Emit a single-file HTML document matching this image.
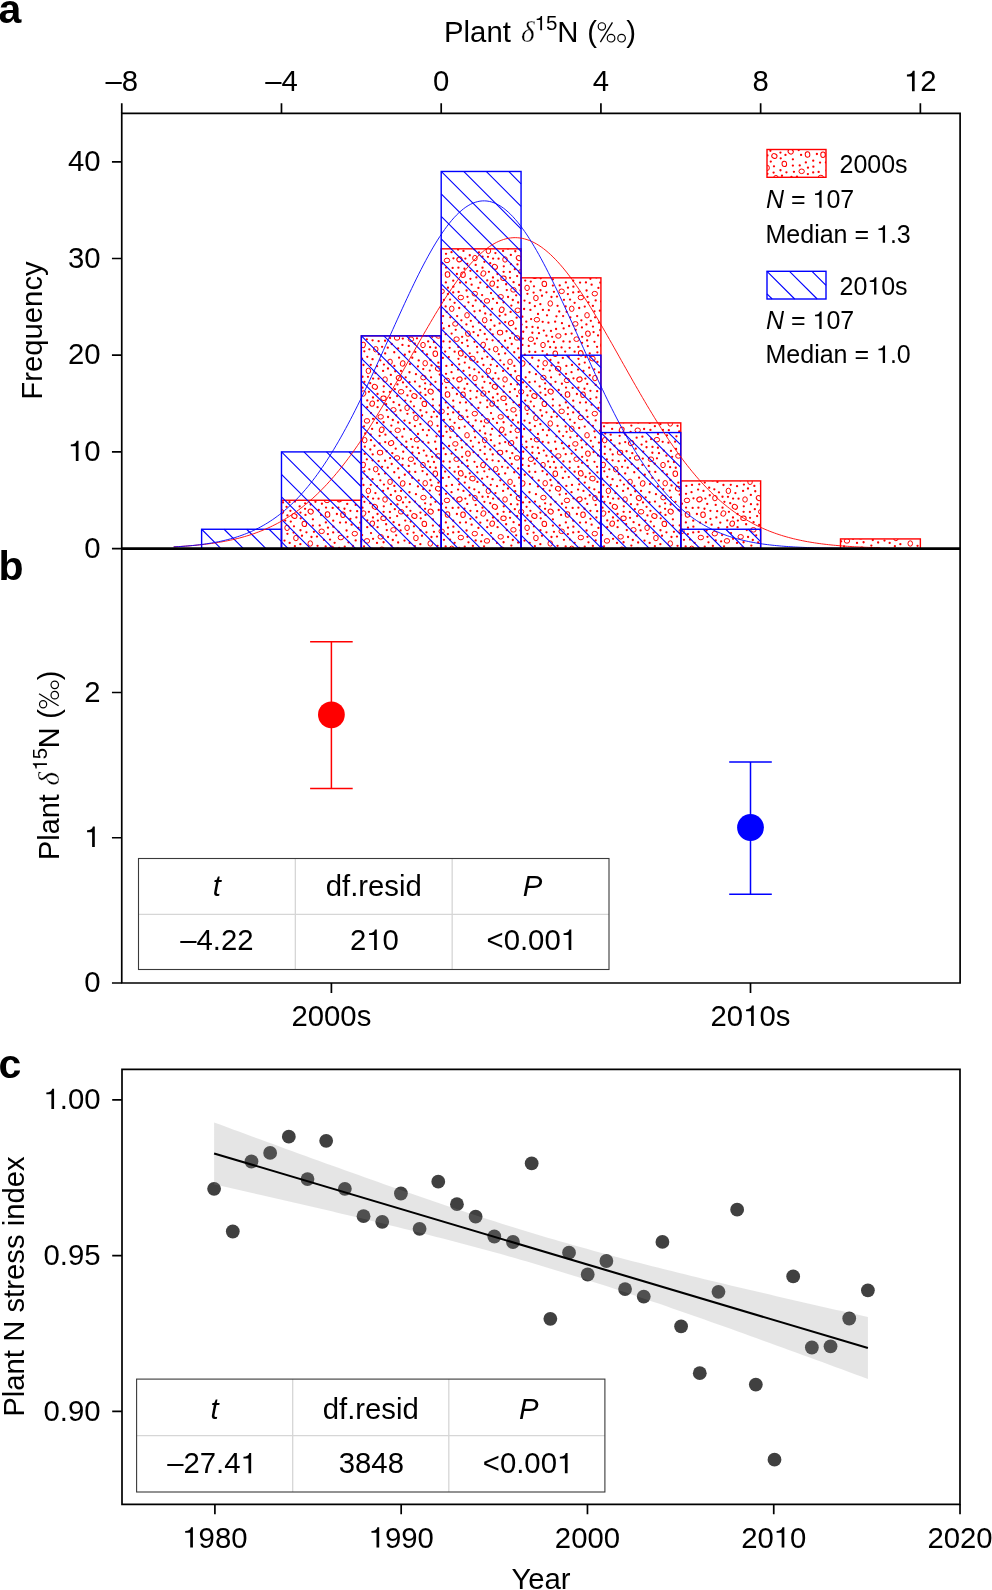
<!DOCTYPE html><html><head><meta charset="utf-8"><style>
html,body{margin:0;padding:0;background:#fff;overflow:hidden;}svg{display:block;will-change:transform;}
text{font-family:"Liberation Sans",sans-serif;fill:#000;}
.s{font-family:"Liberation Serif",serif;font-style:italic;stroke:#fff;stroke-width:0.3px;}
.o{fill:transparent;}</style></head><body>
<svg width="992" height="1590" viewBox="0 0 992 1590">
<defs>
<pattern id="rt" patternUnits="userSpaceOnUse" x="0" y="0" width="120" height="120">
<g fill="#ff0000"><circle cx="70.09" cy="107.14" r="1.15"/><circle cx="81.95" cy="83.20" r="1.15"/><circle cx="12.59" cy="100.30" r="1.15"/><circle cx="67.02" cy="75.33" r="1.15"/><circle cx="75.15" cy="81.68" r="1.15"/><circle cx="58.72" cy="0.40" r="1.15"/><circle cx="58.72" cy="120.40" r="1.15"/><circle cx="95.72" cy="89.79" r="1.15"/><circle cx="60.36" cy="64.22" r="1.15"/><circle cx="8.93" cy="31.87" r="1.15"/><circle cx="88.78" cy="117.09" r="1.15"/><circle cx="81.08" cy="34.90" r="1.15"/><circle cx="61.98" cy="55.76" r="1.15"/><circle cx="55.96" cy="14.22" r="1.15"/><circle cx="107.24" cy="23.91" r="1.15"/><circle cx="117.38" cy="112.35" r="1.15"/><circle cx="2.10" cy="55.08" r="1.15"/><circle cx="25.18" cy="113.47" r="1.15"/><circle cx="17.01" cy="62.89" r="1.15"/><circle cx="106.42" cy="84.40" r="1.15"/><circle cx="27.77" cy="107.72" r="1.15"/><circle cx="0.21" cy="90.09" r="1.15"/><circle cx="120.21" cy="90.09" r="1.15"/><circle cx="-0.14" cy="70.70" r="1.15"/><circle cx="119.86" cy="70.70" r="1.15"/><circle cx="34.27" cy="112.27" r="1.15"/><circle cx="29.92" cy="31.89" r="1.15"/><circle cx="44.80" cy="114.74" r="1.15"/><circle cx="112.88" cy="65.91" r="1.15"/><circle cx="86.35" cy="5.94" r="1.15"/><circle cx="87.88" cy="54.10" r="1.15"/><circle cx="90.32" cy="77.34" r="1.15"/><circle cx="34.34" cy="5.88" r="1.15"/><circle cx="35.73" cy="88.68" r="1.15"/><circle cx="117.16" cy="31.22" r="1.15"/><circle cx="59.65" cy="26.40" r="1.15"/><circle cx="23.09" cy="10.89" r="1.15"/><circle cx="41.03" cy="10.93" r="1.15"/><circle cx="49.67" cy="62.90" r="1.15"/><circle cx="45.22" cy="40.58" r="1.15"/><circle cx="114.47" cy="101.84" r="1.15"/><circle cx="104.75" cy="2.62" r="1.15"/><circle cx="107.48" cy="56.79" r="1.15"/><circle cx="70.46" cy="0.02" r="1.15"/><circle cx="70.46" cy="120.02" r="1.15"/><circle cx="13.09" cy="18.53" r="1.15"/><circle cx="62.68" cy="81.85" r="1.15"/><circle cx="112.98" cy="86.61" r="1.15"/><circle cx="54.88" cy="66.18" r="1.15"/><circle cx="4.75" cy="93.88" r="1.15"/><circle cx="62.93" cy="69.95" r="1.15"/><circle cx="46.57" cy="26.83" r="1.15"/><circle cx="36.18" cy="55.28" r="1.15"/><circle cx="115.07" cy="77.35" r="1.15"/><circle cx="50.40" cy="30.87" r="1.15"/><circle cx="40.57" cy="50.47" r="1.15"/><circle cx="81.91" cy="23.77" r="1.15"/><circle cx="116.38" cy="37.41" r="1.15"/><circle cx="98.40" cy="27.70" r="1.15"/><circle cx="26.57" cy="91.26" r="1.15"/><circle cx="26.80" cy="50.04" r="1.15"/><circle cx="17.57" cy="47.22" r="1.15"/><circle cx="17.03" cy="6.22" r="1.15"/><circle cx="7.22" cy="47.20" r="1.15"/><circle cx="107.78" cy="106.03" r="1.15"/><circle cx="79.73" cy="45.43" r="1.15"/><circle cx="20.31" cy="0.34" r="1.15"/><circle cx="20.31" cy="120.34" r="1.15"/><circle cx="33.58" cy="42.18" r="1.15"/><circle cx="115.71" cy="24.89" r="1.15"/><circle cx="42.80" cy="98.59" r="1.15"/><circle cx="98.64" cy="51.89" r="1.15"/><circle cx="92.00" cy="4.88" r="1.15"/><circle cx="110.41" cy="30.84" r="1.15"/><circle cx="89.67" cy="107.83" r="1.15"/><circle cx="28.06" cy="57.02" r="1.15"/><circle cx="72.87" cy="39.34" r="1.15"/><circle cx="4.06" cy="66.31" r="1.15"/><circle cx="39.09" cy="117.63" r="1.15"/><circle cx="89.76" cy="101.64" r="1.15"/><circle cx="79.73" cy="14.54" r="1.15"/><circle cx="-1.09" cy="12.28" r="1.15"/><circle cx="118.91" cy="12.28" r="1.15"/><circle cx="56.97" cy="98.29" r="1.15"/><circle cx="111.62" cy="44.67" r="1.15"/><circle cx="26.12" cy="44.25" r="1.15"/><circle cx="30.59" cy="71.93" r="1.15"/><circle cx="37.46" cy="24.41" r="1.15"/><circle cx="19.64" cy="83.45" r="1.15"/><circle cx="48.75" cy="105.94" r="1.15"/><circle cx="10.68" cy="74.66" r="1.15"/><circle cx="44.50" cy="60.54" r="1.15"/><circle cx="17.51" cy="34.00" r="1.15"/><circle cx="62.54" cy="111.06" r="1.15"/><circle cx="13.06" cy="58.86" r="1.15"/><circle cx="57.93" cy="6.40" r="1.15"/><circle cx="50.41" cy="69.91" r="1.15"/><circle cx="51.09" cy="79.06" r="1.15"/><circle cx="53.61" cy="52.60" r="1.15"/><circle cx="91.63" cy="93.60" r="1.15"/><circle cx="54.99" cy="21.55" r="1.15"/><circle cx="11.01" cy="53.04" r="1.15"/><circle cx="94.61" cy="111.67" r="1.15"/><circle cx="60.72" cy="38.29" r="1.15"/><circle cx="4.42" cy="21.85" r="1.15"/><circle cx="81.56" cy="107.45" r="1.15"/><circle cx="104.75" cy="66.62" r="1.15"/><circle cx="12.55" cy="-0.85" r="1.15"/><circle cx="12.55" cy="119.15" r="1.15"/><circle cx="43.23" cy="91.76" r="1.15"/><circle cx="73.93" cy="51.87" r="1.15"/><circle cx="78.37" cy="2.67" r="1.15"/><circle cx="0.31" cy="42.60" r="1.15"/><circle cx="120.31" cy="42.60" r="1.15"/><circle cx="70.69" cy="24.50" r="1.15"/><circle cx="37.13" cy="36.03" r="1.15"/><circle cx="83.41" cy="101.44" r="1.15"/><circle cx="66.45" cy="52.33" r="1.15"/><circle cx="94.61" cy="62.79" r="1.15"/><circle cx="52.47" cy="86.95" r="1.15"/><circle cx="25.44" cy="74.71" r="1.15"/><circle cx="9.34" cy="109.29" r="1.15"/><circle cx="3.45" cy="5.00" r="1.15"/><circle cx="83.12" cy="76.07" r="1.15"/><circle cx="83.64" cy="88.41" r="1.15"/><circle cx="98.35" cy="106.95" r="1.15"/><circle cx="109.73" cy="113.32" r="1.15"/><circle cx="115.68" cy="60.45" r="1.15"/><circle cx="52.37" cy="92.76" r="1.15"/><circle cx="41.61" cy="84.56" r="1.15"/><circle cx="103.47" cy="10.91" r="1.15"/><circle cx="83.94" cy="59.80" r="1.15"/><circle cx="63.79" cy="90.54" r="1.15"/><circle cx="18.64" cy="101.17" r="1.15"/><circle cx="18.55" cy="18.72" r="1.15"/><circle cx="-1.94" cy="95.39" r="1.15"/><circle cx="118.06" cy="95.39" r="1.15"/><circle cx="93.38" cy="46.65" r="1.15"/><circle cx="12.13" cy="68.95" r="1.15"/><circle cx="25.21" cy="82.12" r="1.15"/><circle cx="97.15" cy="76.12" r="1.15"/><circle cx="42.38" cy="76.66" r="1.15"/><circle cx="100.05" cy="42.57" r="1.15"/><circle cx="6.85" cy="99.35" r="1.15"/><circle cx="78.71" cy="30.00" r="1.15"/><circle cx="76.44" cy="76.34" r="1.15"/><circle cx="60.45" cy="32.60" r="1.15"/><circle cx="4.81" cy="86.72" r="1.15"/><circle cx="91.52" cy="12.16" r="1.15"/><circle cx="49.49" cy="12.25" r="1.15"/><circle cx="55.27" cy="111.88" r="1.15"/><circle cx="98.08" cy="9.56" r="1.15"/><circle cx="44.11" cy="69.00" r="1.15"/><circle cx="7.28" cy="116.87" r="1.15"/><circle cx="96.90" cy="34.00" r="1.15"/><circle cx="102.14" cy="96.84" r="1.15"/><circle cx="66.44" cy="95.69" r="1.15"/><circle cx="92.66" cy="27.94" r="1.15"/><circle cx="113.58" cy="92.07" r="1.15"/><circle cx="109.19" cy="7.70" r="1.15"/><circle cx="70.98" cy="90.95" r="1.15"/><circle cx="30.84" cy="14.90" r="1.15"/><circle cx="4.32" cy="111.32" r="1.15"/><circle cx="85.65" cy="66.40" r="1.15"/><circle cx="38.17" cy="108.38" r="1.15"/><circle cx="30.94" cy="24.19" r="1.15"/><circle cx="117.44" cy="1.92" r="1.15"/><circle cx="117.44" cy="121.92" r="1.15"/><circle cx="14.49" cy="85.75" r="1.15"/><circle cx="30.05" cy="98.06" r="1.15"/><circle cx="93.23" cy="40.63" r="1.15"/><circle cx="52.27" cy="117.75" r="1.15"/><circle cx="2.50" cy="16.73" r="1.15"/><circle cx="36.65" cy="77.70" r="1.15"/><circle cx="73.96" cy="102.00" r="1.15"/><circle cx="109.76" cy="15.27" r="1.15"/><circle cx="72.88" cy="45.55" r="1.15"/><circle cx="69.79" cy="10.55" r="1.15"/><circle cx="110.42" cy="38.86" r="1.15"/><circle cx="98.47" cy="-1.17" r="1.15"/><circle cx="98.47" cy="118.83" r="1.15"/><circle cx="106.58" cy="50.51" r="1.15"/><circle cx="85.85" cy="42.46" r="1.15"/><circle cx="53.98" cy="46.28" r="1.15"/><circle cx="43.01" cy="22.39" r="1.15"/><circle cx="75.46" cy="21.80" r="1.15"/><circle cx="31.34" cy="65.57" r="1.15"/><circle cx="10.76" cy="4.79" r="1.15"/><circle cx="45.70" cy="17.31" r="1.15"/><circle cx="32.80" cy="60.00" r="1.15"/><circle cx="7.25" cy="40.47" r="1.15"/><circle cx="82.83" cy="117.88" r="1.15"/><circle cx="77.55" cy="65.87" r="1.15"/><circle cx="90.04" cy="59.59" r="1.15"/><circle cx="68.45" cy="82.68" r="1.15"/><circle cx="23.78" cy="26.36" r="1.15"/><circle cx="99.20" cy="67.98" r="1.15"/><circle cx="25.08" cy="100.73" r="1.15"/><circle cx="23.61" cy="31.87" r="1.15"/><circle cx="19.64" cy="75.87" r="1.15"/><circle cx="15.40" cy="13.06" r="1.15"/><circle cx="76.07" cy="88.99" r="1.15"/><circle cx="12.70" cy="94.43" r="1.15"/><circle cx="65.46" cy="34.92" r="1.15"/><circle cx="2.51" cy="27.69" r="1.15"/><circle cx="76.97" cy="56.61" r="1.15"/><circle cx="86.04" cy="27.53" r="1.15"/><circle cx="85.18" cy="111.57" r="1.15"/><circle cx="10.20" cy="23.17" r="1.15"/><circle cx="71.04" cy="17.36" r="1.15"/><circle cx="101.94" cy="87.42" r="1.15"/><circle cx="-1.11" cy="82.56" r="1.15"/><circle cx="118.89" cy="82.56" r="1.15"/><circle cx="54.75" cy="103.63" r="1.15"/><circle cx="89.10" cy="86.01" r="1.15"/><circle cx="86.02" cy="13.82" r="1.15"/><circle cx="42.44" cy="104.96" r="1.15"/><circle cx="23.58" cy="62.25" r="1.15"/><circle cx="60.47" cy="50.25" r="1.15"/><circle cx="57.91" cy="87.73" r="1.15"/><circle cx="32.30" cy="93.14" r="1.15"/><circle cx="58.01" cy="73.99" r="1.15"/><circle cx="23.91" cy="4.60" r="1.15"/><circle cx="49.41" cy="111.73" r="1.15"/><circle cx="49.95" cy="4.06" r="1.15"/><circle cx="101.36" cy="80.34" r="1.15"/><circle cx="10.96" cy="80.13" r="1.15"/><circle cx="85.71" cy="94.13" r="1.15"/><circle cx="47.43" cy="53.87" r="1.15"/><circle cx="107.12" cy="100.38" r="1.15"/><circle cx="5.21" cy="73.49" r="1.15"/><circle cx="105.93" cy="42.39" r="1.15"/><circle cx="93.47" cy="18.32" r="1.15"/><circle cx="114.46" cy="71.35" r="1.15"/><circle cx="31.71" cy="104.01" r="1.15"/><circle cx="63.24" cy="9.11" r="1.15"/><circle cx="67.02" cy="114.38" r="1.15"/><circle cx="-1.58" cy="47.90" r="1.15"/><circle cx="118.42" cy="47.90" r="1.15"/><circle cx="38.14" cy="62.52" r="1.15"/><circle cx="79.23" cy="71.51" r="1.15"/><circle cx="22.09" cy="106.86" r="1.15"/><circle cx="68.81" cy="70.13" r="1.15"/><circle cx="65.15" cy="23.28" r="1.15"/><circle cx="117.07" cy="106.79" r="1.15"/><circle cx="47.44" cy="35.47" r="1.15"/><circle cx="105.61" cy="117.02" r="1.15"/><circle cx="50.77" cy="41.60" r="1.15"/><circle cx="12.98" cy="37.50" r="1.15"/><circle cx="87.97" cy="47.66" r="1.15"/><circle cx="46.28" cy="81.66" r="1.15"/><circle cx="114.33" cy="9.37" r="1.15"/><circle cx="30.03" cy="37.81" r="1.15"/><circle cx="39.20" cy="44.98" r="1.15"/><circle cx="93.20" cy="52.38" r="1.15"/><circle cx="35.27" cy="11.25" r="1.15"/><circle cx="71.48" cy="57.01" r="1.15"/><circle cx="71.52" cy="5.40" r="1.15"/><circle cx="1.14" cy="61.34" r="1.15"/><circle cx="121.14" cy="61.34" r="1.15"/><circle cx="34.81" cy="29.21" r="1.15"/><circle cx="46.55" cy="87.26" r="1.15"/><circle cx="10.29" cy="89.50" r="1.15"/><circle cx="2.10" cy="-1.42" r="1.15"/><circle cx="2.10" cy="118.58" r="1.15"/><circle cx="18.78" cy="114.22" r="1.15"/><circle cx="75.76" cy="107.77" r="1.15"/><circle cx="27.99" cy="8.49" r="1.15"/><circle cx="65.07" cy="28.81" r="1.15"/><circle cx="49.51" cy="22.13" r="1.15"/><circle cx="86.60" cy="71.86" r="1.15"/><circle cx="110.81" cy="80.80" r="1.15"/><circle cx="104.48" cy="28.74" r="1.15"/><circle cx="72.16" cy="96.78" r="1.15"/><circle cx="68.17" cy="101.39" r="1.15"/><circle cx="58.96" cy="93.19" r="1.15"/><circle cx="102.07" cy="102.87" r="1.15"/><circle cx="17.86" cy="40.53" r="1.15"/><circle cx="7.96" cy="16.80" r="1.15"/><circle cx="105.38" cy="18.53" r="1.15"/><circle cx="108.48" cy="62.30" r="1.15"/><circle cx="99.25" cy="4.28" r="1.15"/></g>
<g fill="none" stroke="#ff0000" stroke-width="1.0"><ellipse cx="38.86" cy="18.10" rx="2.7" ry="2.3" transform="rotate(43 38.86 18.10)"/><ellipse cx="78.11" cy="8.69" rx="2.7" ry="2.3" transform="rotate(23 78.11 8.69)"/><ellipse cx="64.31" cy="43.88" rx="2.7" ry="2.3" transform="rotate(85 64.31 43.88)"/><ellipse cx="6.96" cy="60.89" rx="2.7" ry="2.3" transform="rotate(0 6.96 60.89)"/><ellipse cx="8.38" cy="10.89" rx="2.7" ry="2.3" transform="rotate(90 8.38 10.89)"/><ellipse cx="50.94" cy="99.22" rx="2.7" ry="2.3" transform="rotate(0 50.94 99.22)"/><ellipse cx="14.86" cy="26.79" rx="2.7" ry="2.3" transform="rotate(35 14.86 26.79)"/><ellipse cx="75.29" cy="113.73" rx="2.7" ry="2.3" transform="rotate(85 75.29 113.73)"/><ellipse cx="103.02" cy="34.75" rx="2.7" ry="2.3" transform="rotate(86 103.02 34.75)"/><ellipse cx="37.02" cy="97.94" rx="2.7" ry="2.3" transform="rotate(0 37.02 97.94)"/><ellipse cx="21.69" cy="69.79" rx="2.7" ry="2.3" transform="rotate(114 21.69 69.79)"/><ellipse cx="81.65" cy="51.31" rx="2.7" ry="2.3" transform="rotate(0 81.65 51.31)"/><ellipse cx="37.70" cy="70.27" rx="2.7" ry="2.3" transform="rotate(0 37.70 70.27)"/><ellipse cx="54.38" cy="35.97" rx="2.7" ry="2.3" transform="rotate(29 54.38 35.97)"/><ellipse cx="95.33" cy="83.88" rx="2.7" ry="2.3" transform="rotate(0 95.33 83.88)"/><ellipse cx="63.02" cy="105.02" rx="2.7" ry="2.3" transform="rotate(90 63.02 105.02)"/><ellipse cx="87.53" cy="34.55" rx="2.7" ry="2.3" transform="rotate(85 87.53 34.55)"/><ellipse cx="4.70" cy="80.19" rx="2.7" ry="2.3" transform="rotate(90 4.70 80.19)"/><ellipse cx="91.75" cy="68.76" rx="2.7" ry="2.3" transform="rotate(90 91.75 68.76)"/><ellipse cx="100.80" cy="113.36" rx="2.7" ry="2.3" transform="rotate(71 100.80 113.36)"/><ellipse cx="56.89" cy="79.70" rx="2.7" ry="2.3" transform="rotate(0 56.89 79.70)"/><ellipse cx="33.41" cy="49.84" rx="2.7" ry="2.3" transform="rotate(0 33.41 49.84)"/><ellipse cx="114.93" cy="18.11" rx="2.7" ry="2.3" transform="rotate(90 114.93 18.11)"/><ellipse cx="70.69" cy="31.53" rx="2.7" ry="2.3" transform="rotate(39 70.69 31.53)"/><ellipse cx="107.94" cy="93.60" rx="2.7" ry="2.3" transform="rotate(79 107.94 93.60)"/><ellipse cx="47.09" cy="47.88" rx="2.7" ry="2.3" transform="rotate(90 47.09 47.88)"/><ellipse cx="25.05" cy="19.48" rx="2.7" ry="2.3" transform="rotate(90 25.05 19.48)"/><ellipse cx="12.18" cy="43.63" rx="2.7" ry="2.3" transform="rotate(103 12.18 43.63)"/><ellipse cx="3.06" cy="104.92" rx="2.7" ry="2.3" transform="rotate(105 3.06 104.92)"/><ellipse cx="123.06" cy="104.92" rx="2.7" ry="2.3" transform="rotate(105 123.06 104.92)"/><ellipse cx="55.92" cy="58.06" rx="2.7" ry="2.3" transform="rotate(90 55.92 58.06)"/><ellipse cx="41.12" cy="31.77" rx="2.7" ry="2.3" transform="rotate(0 41.12 31.77)"/><ellipse cx="99.46" cy="19.37" rx="2.7" ry="2.3" transform="rotate(154 99.46 19.37)"/><ellipse cx="63.39" cy="17.59" rx="2.7" ry="2.3" transform="rotate(0 63.39 17.59)"/><ellipse cx="65.18" cy="3.25" rx="2.7" ry="2.3" transform="rotate(90 65.18 3.25)"/><ellipse cx="65.18" cy="123.25" rx="2.7" ry="2.3" transform="rotate(90 65.18 123.25)"/><ellipse cx="20.05" cy="92.63" rx="2.7" ry="2.3" transform="rotate(174 20.05 92.63)"/><ellipse cx="42.67" cy="3.48" rx="2.7" ry="2.3" transform="rotate(102 42.67 3.48)"/><ellipse cx="42.67" cy="123.48" rx="2.7" ry="2.3" transform="rotate(102 42.67 123.48)"/><ellipse cx="3.35" cy="33.53" rx="2.7" ry="2.3" transform="rotate(118 3.35 33.53)"/><ellipse cx="123.35" cy="33.53" rx="2.7" ry="2.3" transform="rotate(118 123.35 33.53)"/><ellipse cx="31.10" cy="83.10" rx="2.7" ry="2.3" transform="rotate(150 31.10 83.10)"/><ellipse cx="114.78" cy="53.67" rx="2.7" ry="2.3" transform="rotate(0 114.78 53.67)"/><ellipse cx="112.44" cy="-1.44" rx="2.7" ry="2.3" transform="rotate(11 112.44 -1.44)"/><ellipse cx="112.44" cy="118.56" rx="2.7" ry="2.3" transform="rotate(11 112.44 118.56)"/><ellipse cx="100.85" cy="57.54" rx="2.7" ry="2.3" transform="rotate(0 100.85 57.54)"/><ellipse cx="78.36" cy="95.96" rx="2.7" ry="2.3" transform="rotate(0 78.36 95.96)"/><ellipse cx="86.98" cy="20.40" rx="2.7" ry="2.3" transform="rotate(0 86.98 20.40)"/><ellipse cx="15.73" cy="109.20" rx="2.7" ry="2.3" transform="rotate(90 15.73 109.20)"/><ellipse cx="20.68" cy="56.82" rx="2.7" ry="2.3" transform="rotate(0 20.68 56.82)"/><ellipse cx="23.49" cy="38.22" rx="2.7" ry="2.3" transform="rotate(8 23.49 38.22)"/><ellipse cx="30.05" cy="1.84" rx="2.7" ry="2.3" transform="rotate(90 30.05 1.84)"/><ellipse cx="30.05" cy="121.84" rx="2.7" ry="2.3" transform="rotate(90 30.05 121.84)"/><ellipse cx="70.27" cy="63.50" rx="2.7" ry="2.3" transform="rotate(90 70.27 63.50)"/><ellipse cx="107.03" cy="75.28" rx="2.7" ry="2.3" transform="rotate(90 107.03 75.28)"/><ellipse cx="96.56" cy="99.17" rx="2.7" ry="2.3" transform="rotate(0 96.56 99.17)"/></g>
</pattern>
</defs>
<rect width="992" height="1590" fill="#fff"/>
<rect x="281.48" y="500.25" width="79.86" height="48.35" fill="url(#rt)" stroke="#ff0000" stroke-width="1.4"/>
<rect x="361.34" y="335.86" width="79.86" height="212.74" fill="url(#rt)" stroke="#ff0000" stroke-width="1.4"/>
<rect x="441.20" y="248.83" width="79.86" height="299.77" fill="url(#rt)" stroke="#ff0000" stroke-width="1.4"/>
<rect x="521.06" y="277.84" width="79.86" height="270.76" fill="url(#rt)" stroke="#ff0000" stroke-width="1.4"/>
<rect x="600.92" y="422.89" width="79.86" height="125.71" fill="url(#rt)" stroke="#ff0000" stroke-width="1.4"/>
<rect x="680.78" y="480.91" width="79.86" height="67.69" fill="url(#rt)" stroke="#ff0000" stroke-width="1.4"/>
<rect x="840.50" y="538.93" width="79.86" height="9.67" fill="url(#rt)" stroke="#ff0000" stroke-width="1.4"/>
<path d="M201.62 529.26L220.96 548.60M224.12 529.26L243.46 548.60M246.62 529.26L265.96 548.60M269.12 529.26L281.48 541.62M281.48 541.90L288.18 548.60M281.48 519.40L310.68 548.60M281.48 496.90L333.18 548.60M281.48 474.40L355.68 548.60M281.48 451.90L361.34 531.76M303.98 451.90L361.34 509.26M326.48 451.90L361.34 486.76M348.98 451.90L361.34 464.26M361.34 538.36L371.58 548.60M361.34 515.86L394.08 548.60M361.34 493.36L416.58 548.60M361.34 470.86L439.08 548.60M361.34 448.36L441.20 528.22M361.34 425.86L441.20 505.72M361.34 403.36L441.20 483.22M361.34 380.86L441.20 460.72M361.34 358.36L441.20 438.22M361.34 335.86L441.20 415.72M383.84 335.86L441.20 393.22M406.34 335.86L441.20 370.72M428.84 335.86L441.20 348.22M441.20 531.47L458.33 548.60M441.20 508.97L480.83 548.60M441.20 486.47L503.33 548.60M441.20 463.97L521.06 543.83M441.20 441.47L521.06 521.33M441.20 418.97L521.06 498.83M441.20 396.47L521.06 476.33M441.20 373.97L521.06 453.83M441.20 351.47L521.06 431.33M441.20 328.97L521.06 408.83M441.20 306.47L521.06 386.33M441.20 283.97L521.06 363.83M441.20 261.47L521.06 341.33M441.20 238.97L521.06 318.83M441.20 216.47L521.06 296.33M441.20 193.97L521.06 273.83M441.20 171.47L521.06 251.33M463.70 171.47L521.06 228.83M486.20 171.47L521.06 206.33M508.70 171.47L521.06 183.83M521.06 535.20L534.46 548.60M521.06 512.70L556.96 548.60M521.06 490.20L579.46 548.60M521.06 467.70L600.92 547.56M521.06 445.20L600.92 525.06M521.06 422.70L600.92 502.56M521.06 400.20L600.92 480.06M521.06 377.70L600.92 457.56M521.06 355.20L600.92 435.06M543.56 355.20L600.92 412.56M566.06 355.20L600.92 390.06M588.56 355.20L600.92 367.56M600.92 545.06L604.46 548.60M600.92 522.56L626.96 548.60M600.92 500.06L649.46 548.60M600.92 477.56L671.96 548.60M600.92 455.06L680.78 534.92M600.92 432.56L680.78 512.42M623.42 432.56L680.78 489.92M645.92 432.56L680.78 467.42M668.42 432.56L680.78 444.92M680.78 529.26L700.12 548.60M703.28 529.26L722.62 548.60M725.78 529.26L745.12 548.60M748.28 529.26L760.64 541.62" stroke="#0000ff" stroke-width="1.1" fill="none"/>
<rect x="201.62" y="529.26" width="79.86" height="19.34" fill="none" stroke="#0000ff" stroke-width="1.4"/>
<rect x="281.48" y="451.90" width="79.86" height="96.70" fill="none" stroke="#0000ff" stroke-width="1.4"/>
<rect x="361.34" y="335.86" width="79.86" height="212.74" fill="none" stroke="#0000ff" stroke-width="1.4"/>
<rect x="441.20" y="171.47" width="79.86" height="377.13" fill="none" stroke="#0000ff" stroke-width="1.4"/>
<rect x="521.06" y="355.20" width="79.86" height="193.40" fill="none" stroke="#0000ff" stroke-width="1.4"/>
<rect x="600.92" y="432.56" width="79.86" height="116.04" fill="none" stroke="#0000ff" stroke-width="1.4"/>
<rect x="680.78" y="529.26" width="79.86" height="19.34" fill="none" stroke="#0000ff" stroke-width="1.4"/>
<polyline points="173.67,546.86 176.02,546.73 178.38,546.59 180.74,546.45 183.09,546.29 185.45,546.13 187.80,545.95 190.16,545.76 192.52,545.56 194.87,545.35 197.23,545.13 199.58,544.89 201.94,544.63 204.30,544.37 206.65,544.08 209.01,543.78 211.36,543.46 213.72,543.13 216.07,542.77 218.43,542.40 220.79,542.00 223.14,541.58 225.50,541.14 227.85,540.68 230.21,540.19 232.57,539.67 234.92,539.13 237.28,538.56 239.63,537.96 241.99,537.33 244.35,536.67 246.70,535.98 249.06,535.25 251.41,534.49 253.77,533.69 256.12,532.85 258.48,531.98 260.84,531.07 263.19,530.11 265.55,529.11 267.90,528.07 270.26,526.99 272.62,525.85 274.97,524.67 277.33,523.44 279.68,522.17 282.04,520.84 284.39,519.45 286.75,518.02 289.11,516.52 291.46,514.98 293.82,513.37 296.17,511.71 298.53,509.99 300.89,508.20 303.24,506.36 305.60,504.45 307.95,502.48 310.31,500.45 312.67,498.35 315.02,496.18 317.38,493.95 319.73,491.65 322.09,489.29 324.44,486.86 326.80,484.35 329.16,481.78 331.51,479.15 333.87,476.44 336.22,473.66 338.58,470.82 340.94,467.91 343.29,464.93 345.65,461.88 348.00,458.77 350.36,455.59 352.72,452.35 355.07,449.04 357.43,445.67 359.78,442.24 362.14,438.75 364.49,435.20 366.85,431.59 369.21,427.93 371.56,424.21 373.92,420.44 376.27,416.63 378.63,412.77 380.99,408.86 383.34,404.91 385.70,400.93 388.05,396.90 390.41,392.85 392.76,388.77 395.12,384.65 397.48,380.52 399.83,376.37 402.19,372.20 404.54,368.02 406.90,363.84 409.26,359.65 411.61,355.46 413.97,351.27 416.32,347.09 418.68,342.93 421.04,338.78 423.39,334.66 425.75,330.56 428.10,326.50 430.46,322.47 432.81,318.48 435.17,314.53 437.53,310.64 439.88,306.80 442.24,303.02 444.59,299.30 446.95,295.65 449.31,292.08 451.66,288.58 454.02,285.17 456.37,281.84 458.73,278.61 461.09,275.47 463.44,272.43 465.80,269.49 468.15,266.66 470.51,263.94 472.86,261.34 475.22,258.86 477.58,256.51 479.93,254.27 482.29,252.17 484.64,250.20 487.00,248.36 489.36,246.67 491.71,245.11 494.07,243.70 496.42,242.43 498.78,241.30 501.13,240.33 503.49,239.50 505.85,238.83 508.20,238.31 510.56,237.93 512.91,237.72 515.27,237.65 517.63,237.74 519.98,237.99 522.34,238.38 524.69,238.93 527.05,239.63 529.41,240.48 531.76,241.48 534.12,242.63 536.47,243.93 538.83,245.36 541.18,246.95 543.54,248.67 545.90,250.52 548.25,252.52 550.61,254.64 552.96,256.90 555.32,259.28 557.68,261.78 560.03,264.40 562.39,267.13 564.74,269.98 567.10,272.93 569.46,275.99 571.81,279.15 574.17,282.40 576.52,285.74 578.88,289.17 581.23,292.68 583.59,296.27 585.95,299.93 588.30,303.65 590.66,307.44 593.01,311.29 595.37,315.20 597.73,319.15 600.08,323.15 602.44,327.18 604.79,331.26 607.15,335.36 609.50,339.49 611.86,343.63 614.22,347.80 616.57,351.98 618.93,356.17 621.28,360.36 623.64,364.55 626.00,368.73 628.35,372.91 630.71,377.07 633.06,381.22 635.42,385.35 637.78,389.46 640.13,393.54 642.49,397.59 644.84,401.60 647.20,405.58 649.55,409.53 651.91,413.42 654.27,417.28 656.62,421.09 658.98,424.85 661.33,428.55 663.69,432.21 666.05,435.80 668.40,439.34 670.76,442.83 673.11,446.25 675.47,449.61 677.83,452.90 680.18,456.14 682.54,459.30 684.89,462.41 687.25,465.44 689.60,468.41 691.96,471.31 694.32,474.14 696.67,476.90 699.03,479.60 701.38,482.22 703.74,484.78 706.10,487.27 708.45,489.69 710.81,492.05 713.16,494.33 715.52,496.55 717.87,498.71 720.23,500.80 722.59,502.82 724.94,504.78 727.30,506.68 729.65,508.51 732.01,510.28 734.37,512.00 736.72,513.65 739.08,515.24 741.43,516.78 743.79,518.26 746.15,519.69 748.50,521.06 750.86,522.39 753.21,523.66 755.57,524.88 757.92,526.05 760.28,527.17 762.64,528.25 764.99,529.29 767.35,530.28 769.70,531.22 772.06,532.13 774.42,533.00 776.77,533.83 779.13,534.62 781.48,535.38 783.84,536.10 786.20,536.78 788.55,537.44 790.91,538.06 793.26,538.66 795.62,539.22 797.97,539.76 800.33,540.27 802.69,540.76 805.04,541.22 807.40,541.66 809.75,542.07 812.11,542.46 814.47,542.83 816.82,543.19 819.18,543.52 821.53,543.83 823.89,544.13 826.24,544.41 828.60,544.68 830.96,544.93 833.31,545.17 835.67,545.39 838.02,545.60 840.38,545.79 842.74,545.98 845.09,546.15 847.45,546.32 849.80,546.47 852.16,546.62 854.52,546.75 856.87,546.88 859.23,547.00 861.58,547.11 863.94,547.22 866.29,547.31 868.65,547.41 871.01,547.49 873.36,547.57 875.72,547.65 878.07,547.72 880.43,547.78" fill="none" stroke="#ff0000" stroke-width="0.9"/>
<polyline points="173.67,546.96 176.02,546.82 178.38,546.67 180.74,546.51 183.09,546.34 185.45,546.15 187.80,545.96 190.16,545.74 192.52,545.52 194.87,545.27 197.23,545.01 199.58,544.73 201.94,544.43 204.30,544.12 206.65,543.78 209.01,543.41 211.36,543.03 213.72,542.62 216.07,542.18 218.43,541.71 220.79,541.22 223.14,540.70 225.50,540.14 227.85,539.55 230.21,538.92 232.57,538.26 234.92,537.56 237.28,536.82 239.63,536.04 241.99,535.21 244.35,534.34 246.70,533.42 249.06,532.45 251.41,531.43 253.77,530.35 256.12,529.22 258.48,528.04 260.84,526.79 263.19,525.49 265.55,524.12 267.90,522.68 270.26,521.18 272.62,519.61 274.97,517.97 277.33,516.25 279.68,514.46 282.04,512.60 284.39,510.65 286.75,508.63 289.11,506.52 291.46,504.33 293.82,502.05 296.17,499.69 298.53,497.23 300.89,494.69 303.24,492.06 305.60,489.34 307.95,486.52 310.31,483.61 312.67,480.60 315.02,477.50 317.38,474.30 319.73,471.01 322.09,467.62 324.44,464.14 326.80,460.56 329.16,456.89 331.51,453.12 333.87,449.26 336.22,445.30 338.58,441.26 340.94,437.12 343.29,432.90 345.65,428.59 348.00,424.20 350.36,419.73 352.72,415.18 355.07,410.55 357.43,405.85 359.78,401.08 362.14,396.25 364.49,391.35 366.85,386.40 369.21,381.40 371.56,376.35 373.92,371.25 376.27,366.12 378.63,360.95 380.99,355.76 383.34,350.54 385.70,345.32 388.05,340.08 390.41,334.83 392.76,329.60 395.12,324.37 397.48,319.16 399.83,313.97 402.19,308.81 404.54,303.70 406.90,298.62 409.26,293.60 411.61,288.64 413.97,283.75 416.32,278.93 418.68,274.19 421.04,269.54 423.39,264.99 425.75,260.54 428.10,256.21 430.46,251.99 432.81,247.89 435.17,243.93 437.53,240.11 439.88,236.43 442.24,232.90 444.59,229.53 446.95,226.32 449.31,223.28 451.66,220.42 454.02,217.73 456.37,215.23 458.73,212.92 461.09,210.80 463.44,208.87 465.80,207.15 468.15,205.63 470.51,204.31 472.86,203.21 475.22,202.31 477.58,201.63 479.93,201.16 482.29,200.90 484.64,200.86 487.00,201.03 489.36,201.42 491.71,202.02 494.07,202.83 496.42,203.86 498.78,205.09 501.13,206.53 503.49,208.18 505.85,210.02 508.20,212.07 510.56,214.31 512.91,216.73 515.27,219.35 517.63,222.14 519.98,225.12 522.34,228.26 524.69,231.57 527.05,235.03 529.41,238.66 531.76,242.42 534.12,246.33 536.47,250.38 538.83,254.55 541.18,258.84 543.54,263.24 545.90,267.76 548.25,272.37 550.61,277.07 552.96,281.86 555.32,286.73 557.68,291.66 560.03,296.66 562.39,301.71 564.74,306.81 567.10,311.96 569.46,317.13 571.81,322.33 574.17,327.56 576.52,332.79 578.88,338.03 581.23,343.27 583.59,348.51 585.95,353.73 588.30,358.93 590.66,364.11 593.01,369.25 595.37,374.36 597.73,379.43 600.08,384.46 602.44,389.43 604.79,394.35 607.15,399.20 609.50,404.00 611.86,408.72 614.22,413.38 616.57,417.96 618.93,422.47 621.28,426.89 623.64,431.23 626.00,435.49 628.35,439.66 630.71,443.74 633.06,447.73 635.42,451.62 637.78,455.43 640.13,459.14 642.49,462.76 644.84,466.28 647.20,469.70 649.55,473.03 651.91,476.27 654.27,479.40 656.62,482.45 658.98,485.39 661.33,488.25 663.69,491.01 666.05,493.68 668.40,496.25 670.76,498.74 673.11,501.14 675.47,503.45 677.83,505.67 680.18,507.81 682.54,509.87 684.89,511.85 687.25,513.75 689.60,515.56 691.96,517.31 694.32,518.98 696.67,520.58 699.03,522.11 701.38,523.57 703.74,524.96 706.10,526.29 708.45,527.56 710.81,528.77 713.16,529.92 715.52,531.02 717.87,532.06 720.23,533.05 722.59,533.98 724.94,534.87 727.30,535.72 729.65,536.52 732.01,537.28 734.37,537.99 736.72,538.67 739.08,539.31 741.43,539.91 743.79,540.48 746.15,541.02 748.50,541.53 750.86,542.00 753.21,542.45 755.57,542.87 757.92,543.27 760.28,543.64 762.64,543.99 764.99,544.31 767.35,544.62 769.70,544.90 772.06,545.17 774.42,545.42 776.77,545.66 779.13,545.87 781.48,546.08 783.84,546.27 786.20,546.45 788.55,546.61 790.91,546.76 793.26,546.91 795.62,547.04 797.97,547.16 800.33,547.28 802.69,547.38 805.04,547.48 807.40,547.57 809.75,547.65 812.11,547.73 814.47,547.80 816.82,547.87 819.18,547.93 821.53,547.99 823.89,548.04 826.24,548.09 828.60,548.13 830.96,548.17 833.31,548.21 835.67,548.24 838.02,548.28 840.38,548.30 842.74,548.33 845.09,548.36 847.45,548.38 849.80,548.40 852.16,548.42 854.52,548.43 856.87,548.45 859.23,548.46 861.58,548.48 863.94,548.49 866.29,548.50 868.65,548.51 871.01,548.52 873.36,548.52 875.72,548.53 878.07,548.54 880.43,548.54" fill="none" stroke="#0000ff" stroke-width="0.9"/>
<rect x="767" y="149.5" width="59" height="27.8" fill="url(#rt)" stroke="#ff0000" stroke-width="1.4"/>
<path d="M767.00 293.80L772.20 299.00M767.00 271.30L794.70 299.00M789.50 271.30L817.20 299.00M812.00 271.30L826.00 285.30" stroke="#0000ff" stroke-width="1.1" fill="none"/>
<rect x="767" y="271.3" width="59" height="27.7" fill="none" stroke="#0000ff" stroke-width="1.4"/>
<g font-size="25.0">
<text x="839.5" y="173.1">2000s</text>
<text x="766" y="207.7"><tspan font-style="italic">N</tspan> = <tspan class="o">1</tspan>07</text>
<text x="765.5" y="242.7">Median = <tspan class="o">1</tspan>.3</text>
<text x="839.5" y="294.6">20<tspan class="o">1</tspan>0s</text>
<text x="766" y="328.9"><tspan font-style="italic">N</tspan> = <tspan class="o">1</tspan>07</text>
<text x="765.5" y="362.9">Median = <tspan class="o">1</tspan>.0</text>
</g>
<g stroke="#ff0000" stroke-width="1.5" fill="none">
<path d="M331.40 641.70V788.60M310.10 641.70H352.70M310.10 788.60H352.70"/>
</g>
<circle cx="331.40" cy="714.80" r="13.4" fill="#ff0000"/>
<g stroke="#0000ff" stroke-width="1.5" fill="none">
<path d="M750.50 762.10V894.20M729.20 762.10H771.80M729.20 894.20H771.80"/>
</g>
<circle cx="750.50" cy="827.50" r="13.4" fill="#0000ff"/>
<g stroke="#d6d6d6" stroke-width="1.3" fill="none">
<path d="M295.33 858.50V969.50M452.17 858.50V969.50M138.50 914.30H609.00"/>
</g>
<rect x="138.50" y="858.50" width="470.50" height="111.00" fill="none" stroke="#3a3a3a" stroke-width="1.1"/>
<g font-size="29.3" text-anchor="middle">
<text x="216.92" y="896.30" font-style="italic">t</text>
<text x="373.75" y="896.30">df.resid</text>
<text x="532.58" y="896.30" font-style="italic">P</text>
<text x="216.92" y="949.90">–4.22</text>
<text x="374.35" y="949.90">2<tspan class="o">1</tspan>0</text>
<text x="531.78" y="949.90">&lt;0.00<tspan class="o">1</tspan></text>
</g>
<g fill="#404040">
<circle cx="214.10" cy="1188.80" r="6.9"/>
<circle cx="232.78" cy="1231.50" r="6.9"/>
<circle cx="251.46" cy="1161.50" r="6.9"/>
<circle cx="270.14" cy="1152.90" r="6.9"/>
<circle cx="288.82" cy="1136.70" r="6.9"/>
<circle cx="307.50" cy="1179.10" r="6.9"/>
<circle cx="326.18" cy="1140.80" r="6.9"/>
<circle cx="344.86" cy="1188.80" r="6.9"/>
<circle cx="363.54" cy="1216.20" r="6.9"/>
<circle cx="382.22" cy="1221.80" r="6.9"/>
<circle cx="400.90" cy="1193.50" r="6.9"/>
<circle cx="419.58" cy="1228.80" r="6.9"/>
<circle cx="438.26" cy="1181.70" r="6.9"/>
<circle cx="456.94" cy="1204.20" r="6.9"/>
<circle cx="475.62" cy="1216.70" r="6.9"/>
<circle cx="494.30" cy="1236.50" r="6.9"/>
<circle cx="512.98" cy="1242.00" r="6.9"/>
<circle cx="531.66" cy="1163.40" r="6.9"/>
<circle cx="550.34" cy="1318.80" r="6.9"/>
<circle cx="569.02" cy="1252.70" r="6.9"/>
<circle cx="587.70" cy="1274.50" r="6.9"/>
<circle cx="606.38" cy="1261.00" r="6.9"/>
<circle cx="625.06" cy="1289.10" r="6.9"/>
<circle cx="643.74" cy="1296.60" r="6.9"/>
<circle cx="662.42" cy="1241.90" r="6.9"/>
<circle cx="681.10" cy="1326.30" r="6.9"/>
<circle cx="699.78" cy="1373.20" r="6.9"/>
<circle cx="718.46" cy="1291.80" r="6.9"/>
<circle cx="737.14" cy="1209.70" r="6.9"/>
<circle cx="755.82" cy="1384.60" r="6.9"/>
<circle cx="774.50" cy="1459.70" r="6.9"/>
<circle cx="793.18" cy="1276.40" r="6.9"/>
<circle cx="811.86" cy="1347.50" r="6.9"/>
<circle cx="830.54" cy="1346.30" r="6.9"/>
<circle cx="849.22" cy="1318.50" r="6.9"/>
<circle cx="867.90" cy="1290.30" r="6.9"/>
</g>
<polygon points="214.10,1122.41 220.64,1124.83 227.18,1127.25 233.71,1129.66 240.25,1132.08 246.79,1134.49 253.33,1136.89 259.87,1139.30 266.40,1141.70 272.94,1144.09 279.48,1146.49 286.02,1148.88 292.56,1151.26 299.09,1153.65 305.63,1156.02 312.17,1158.40 318.71,1160.77 325.25,1163.13 331.78,1165.49 338.32,1167.84 344.86,1170.19 351.40,1172.53 357.94,1174.87 364.47,1177.20 371.01,1179.52 377.55,1181.83 384.09,1184.14 390.63,1186.43 397.16,1188.72 403.70,1191.00 410.24,1193.27 416.78,1195.53 423.32,1197.78 429.85,1200.01 436.39,1202.24 442.93,1204.45 449.47,1206.64 456.01,1208.83 462.54,1211.00 469.08,1213.15 475.62,1215.29 482.16,1217.41 488.70,1219.52 495.23,1221.61 501.77,1223.68 508.31,1225.73 514.85,1227.76 521.39,1229.77 527.92,1231.77 534.46,1233.74 541.00,1235.70 547.54,1237.64 554.08,1239.55 560.61,1241.45 567.15,1243.33 573.69,1245.19 580.23,1247.03 586.77,1248.85 593.30,1250.65 599.84,1252.44 606.38,1254.21 612.92,1255.96 619.46,1257.70 625.99,1259.42 632.53,1261.13 639.07,1262.83 645.61,1264.51 652.15,1266.18 658.68,1267.83 665.22,1269.48 671.76,1271.11 678.30,1272.73 684.84,1274.35 691.37,1275.95 697.91,1277.54 704.45,1279.13 710.99,1280.71 717.53,1282.28 724.06,1283.84 730.60,1285.40 737.14,1286.95 743.68,1288.50 750.22,1290.03 756.75,1291.57 763.29,1293.09 769.83,1294.62 776.37,1296.14 782.91,1297.65 789.44,1299.16 795.98,1300.67 802.52,1302.17 809.06,1303.67 815.60,1305.16 822.13,1306.65 828.67,1308.14 835.21,1309.63 841.75,1311.11 848.29,1312.59 854.82,1314.07 861.36,1315.54 867.90,1317.01 867.90,1378.99 861.36,1376.57 854.82,1374.15 848.29,1371.74 841.75,1369.32 835.21,1366.91 828.67,1364.51 822.13,1362.10 815.60,1359.70 809.06,1357.31 802.52,1354.91 795.98,1352.52 789.44,1350.14 782.91,1347.75 776.37,1345.38 769.83,1343.00 763.29,1340.63 756.75,1338.27 750.22,1335.91 743.68,1333.56 737.14,1331.21 730.60,1328.87 724.06,1326.53 717.53,1324.20 710.99,1321.88 704.45,1319.57 697.91,1317.26 691.37,1314.97 684.84,1312.68 678.30,1310.40 671.76,1308.13 665.22,1305.87 658.68,1303.62 652.15,1301.39 645.61,1299.16 639.07,1296.95 632.53,1294.76 625.99,1292.57 619.46,1290.40 612.92,1288.25 606.38,1286.11 599.84,1283.99 593.30,1281.88 586.77,1279.79 580.23,1277.72 573.69,1275.67 567.15,1273.64 560.61,1271.63 554.08,1269.63 547.54,1267.66 541.00,1265.70 534.46,1263.76 527.92,1261.85 521.39,1259.95 514.85,1258.07 508.31,1256.21 501.77,1254.37 495.23,1252.55 488.70,1250.75 482.16,1248.96 475.62,1247.19 469.08,1245.44 462.54,1243.70 456.01,1241.98 449.47,1240.27 442.93,1238.57 436.39,1236.89 429.85,1235.22 423.32,1233.57 416.78,1231.92 410.24,1230.29 403.70,1228.67 397.16,1227.05 390.63,1225.45 384.09,1223.86 377.55,1222.27 371.01,1220.69 364.47,1219.12 357.94,1217.56 351.40,1216.00 344.86,1214.45 338.32,1212.90 331.78,1211.37 325.25,1209.83 318.71,1208.31 312.17,1206.78 305.63,1205.26 299.09,1203.75 292.56,1202.24 286.02,1200.73 279.48,1199.23 272.94,1197.73 266.40,1196.24 259.87,1194.75 253.33,1193.26 246.79,1191.77 240.25,1190.29 233.71,1188.81 227.18,1187.33 220.64,1185.86 214.10,1184.39" fill="#8a8a8a" fill-opacity="0.222"/>
<line x1="214.10" y1="1153.40" x2="867.90" y2="1348.00" stroke="#000" stroke-width="2.1"/>
<g stroke="#d6d6d6" stroke-width="1.3" fill="none">
<path d="M292.70 1379.10V1492.00M448.80 1379.10V1492.00M136.60 1435.60H604.90"/>
</g>
<rect x="136.60" y="1379.10" width="468.30" height="112.90" fill="none" stroke="#3a3a3a" stroke-width="1.1"/>
<g font-size="29.3" text-anchor="middle">
<text x="214.65" y="1418.70" font-style="italic">t</text>
<text x="370.75" y="1418.70">df.resid</text>
<text x="528.85" y="1418.70" font-style="italic">P</text>
<text x="212.05" y="1473.30">–27.4<tspan class="o">1</tspan></text>
<text x="371.35" y="1473.30">3848</text>
<text x="528.05" y="1473.30">&lt;0.00<tspan class="o">1</tspan></text>
</g>
<g stroke="#000" stroke-width="1.7" fill="none" stroke-linecap="butt">
<path d="M121.75 113.30H960.10V983.00H121.75Z"/>
<path d="M121.76 113.30V103.30M281.48 113.30V103.30M441.20 113.30V103.30M600.92 113.30V103.30M760.64 113.30V103.30M920.36 113.30V103.30M121.75 548.60H111.95M121.75 451.90H111.95M121.75 355.20H111.95M121.75 258.50H111.95M121.75 161.80H111.95M121.75 983.00H111.95M121.75 837.75H111.95M121.75 692.50H111.95M331.4 983.00V993.00M750.5 983.00V993.00"/>
<path d="M122.00 1069.30H960.00V1504.30H122.00Z"/>
<path d="M214.90 1504.30V1514.30M401.18 1504.30V1514.30M587.46 1504.30V1514.30M773.74 1504.30V1514.30M960.02 1504.30V1514.30M122.00 1411.30H112.20M122.00 1255.60H112.20M122.00 1099.90H112.20"/>
</g>
<line x1="121.75" y1="548.60" x2="960.10" y2="548.60" stroke="#000" stroke-width="2.8"/>
<g font-size="29.3">
<g text-anchor="middle">
<text x="121.76" y="91.2">–8</text>
<text x="281.48" y="91.2">–4</text>
<text x="441.20" y="91.2">0</text>
<text x="600.92" y="91.2">4</text>
<text x="760.64" y="91.2">8</text>
<text x="920.36" y="91.2"><tspan class="o">1</tspan>2</text>
</g>
<g text-anchor="end">
<text x="100.5" y="557.80">0</text>
<text x="100.5" y="461.10"><tspan class="o">1</tspan>0</text>
<text x="100.5" y="364.40">20</text>
<text x="100.5" y="267.70">30</text>
<text x="100.5" y="171.00">40</text>
<text x="100.5" y="992.20">0</text>
<text x="100.5" y="846.95"><tspan class="o">1</tspan></text>
<text x="100.5" y="701.70">2</text>
<text x="100.5" y="1420.50">0.90</text>
<text x="100.5" y="1264.80">0.95</text>
<text x="100.5" y="1109.10"><tspan class="o">1</tspan>.00</text>
</g>
<g text-anchor="middle">
<text x="331.4" y="1026">2000s</text>
<text x="750.5" y="1026">20<tspan class="o">1</tspan>0s</text>
<text x="214.90" y="1547.6"><tspan class="o">1</tspan>980</text>
<text x="401.18" y="1547.6"><tspan class="o">1</tspan>990</text>
<text x="587.46" y="1547.6">2000</text>
<text x="773.74" y="1547.6">20<tspan class="o">1</tspan>0</text>
<text x="960.02" y="1547.6">2020</text>
<text x="541" y="1589">Year</text>
</g>
<g transform="translate(444.07,42.3)">
<text x="0" y="0">Plant</text>
<text x="77.00" y="0" class="s">δ</text>
<text x="90.6" y="-12" font-size="20.5"><tspan class="o">1</tspan>5</text>
<text x="113.2" y="0">N</text>
<text x="143.1" y="0">(</text>
<text x="182.1" y="0">)</text>
<g fill="none" stroke="#000" stroke-width="1.2"><circle cx="157.8" cy="-15.9" r="3.65"/><circle cx="167.0" cy="-4.1" r="3.8"/><circle cx="177.5" cy="-4.1" r="3.8"/><path d="M168.4 -20.0L156.3 -0.2" stroke-width="1.35"/></g>
</g>
<text transform="translate(42.1,330.5) rotate(-90)" text-anchor="middle">Frequency</text>
<g transform="translate(58.8,860.0) rotate(-90) scale(0.987)">
<text x="0" y="0">Plant</text>
<text x="75.40" y="0" class="s">δ</text>
<text x="90.6" y="-12" font-size="20.5"><tspan class="o">1</tspan>5</text>
<text x="113.2" y="0">N</text>
<text x="143.1" y="0">(</text>
<text x="182.1" y="0">)</text>
<g fill="none" stroke="#000" stroke-width="1.2"><circle cx="157.8" cy="-15.9" r="3.65"/><circle cx="167.0" cy="-4.1" r="3.8"/><circle cx="177.5" cy="-4.1" r="3.8"/><path d="M168.4 -20.0L156.3 -0.2" stroke-width="1.35"/></g>
</g>
<text transform="translate(23.7,1286.5) rotate(-90)" text-anchor="middle">Plant N stress index</text>
</g>
<g font-size="41" font-weight="bold">
<text x="-1.5" y="22.5">a</text>
<text x="-1.5" y="580.3">b</text>
<text x="-1.5" y="1078.2">c</text>
</g>
<g fill="#000"><path transform="matrix(1.0000 0.0000 0.0000 1.0000 0.00 0.00) translate(812.56 207.70) scale(25.00)" d="M0.362 0V-0.697H0.298C0.276 -0.612 0.222 -0.569 0.098 -0.566V-0.505H0.270V0Z"/><path transform="matrix(1.0000 0.0000 0.0000 1.0000 0.00 0.00) translate(876.00 242.70) scale(25.00)" d="M0.362 0V-0.697H0.298C0.276 -0.612 0.222 -0.569 0.098 -0.566V-0.505H0.270V0Z"/><path transform="matrix(1.0000 0.0000 0.0000 1.0000 0.00 0.00) translate(867.31 294.60) scale(25.00)" d="M0.362 0V-0.697H0.298C0.276 -0.612 0.222 -0.569 0.098 -0.566V-0.505H0.270V0Z"/><path transform="matrix(1.0000 0.0000 0.0000 1.0000 0.00 0.00) translate(812.56 328.90) scale(25.00)" d="M0.362 0V-0.697H0.298C0.276 -0.612 0.222 -0.569 0.098 -0.566V-0.505H0.270V0Z"/><path transform="matrix(1.0000 0.0000 0.0000 1.0000 0.00 0.00) translate(876.00 362.90) scale(25.00)" d="M0.362 0V-0.697H0.298C0.276 -0.612 0.222 -0.569 0.098 -0.566V-0.505H0.270V0Z"/><path transform="matrix(1.0000 0.0000 0.0000 1.0000 0.00 0.00) translate(366.20 949.90) scale(29.30)" d="M0.362 0V-0.697H0.298C0.276 -0.612 0.222 -0.569 0.098 -0.566V-0.505H0.270V0Z"/><path transform="matrix(1.0000 0.0000 0.0000 1.0000 0.00 0.00) translate(560.70 949.90) scale(29.30)" d="M0.362 0V-0.697H0.298C0.276 -0.612 0.222 -0.569 0.098 -0.566V-0.505H0.270V0Z"/><path transform="matrix(1.0000 0.0000 0.0000 1.0000 0.00 0.00) translate(240.57 1473.30) scale(29.30)" d="M0.362 0V-0.697H0.298C0.276 -0.612 0.222 -0.569 0.098 -0.566V-0.505H0.270V0Z"/><path transform="matrix(1.0000 0.0000 0.0000 1.0000 0.00 0.00) translate(556.97 1473.30) scale(29.30)" d="M0.362 0V-0.697H0.298C0.276 -0.612 0.222 -0.569 0.098 -0.566V-0.505H0.270V0Z"/><path transform="matrix(1.0000 0.0000 0.0000 1.0000 0.00 0.00) translate(904.06 91.20) scale(29.30)" d="M0.362 0V-0.697H0.298C0.276 -0.612 0.222 -0.569 0.098 -0.566V-0.505H0.270V0Z"/><path transform="matrix(1.0000 0.0000 0.0000 1.0000 0.00 0.00) translate(67.91 461.10) scale(29.30)" d="M0.362 0V-0.697H0.298C0.276 -0.612 0.222 -0.569 0.098 -0.566V-0.505H0.270V0Z"/><path transform="matrix(1.0000 0.0000 0.0000 1.0000 0.00 0.00) translate(84.20 846.95) scale(29.30)" d="M0.362 0V-0.697H0.298C0.276 -0.612 0.222 -0.569 0.098 -0.566V-0.505H0.270V0Z"/><path transform="matrix(1.0000 0.0000 0.0000 1.0000 0.00 0.00) translate(43.47 1109.10) scale(29.30)" d="M0.362 0V-0.697H0.298C0.276 -0.612 0.222 -0.569 0.098 -0.566V-0.505H0.270V0Z"/><path transform="matrix(1.0000 0.0000 0.0000 1.0000 0.00 0.00) translate(743.17 1026.00) scale(29.30)" d="M0.362 0V-0.697H0.298C0.276 -0.612 0.222 -0.569 0.098 -0.566V-0.505H0.270V0Z"/><path transform="matrix(1.0000 0.0000 0.0000 1.0000 0.00 0.00) translate(182.31 1547.60) scale(29.30)" d="M0.362 0V-0.697H0.298C0.276 -0.612 0.222 -0.569 0.098 -0.566V-0.505H0.270V0Z"/><path transform="matrix(1.0000 0.0000 0.0000 1.0000 0.00 0.00) translate(368.59 1547.60) scale(29.30)" d="M0.362 0V-0.697H0.298C0.276 -0.612 0.222 -0.569 0.098 -0.566V-0.505H0.270V0Z"/><path transform="matrix(1.0000 0.0000 0.0000 1.0000 0.00 0.00) translate(773.74 1547.60) scale(29.30)" d="M0.362 0V-0.697H0.298C0.276 -0.612 0.222 -0.569 0.098 -0.566V-0.505H0.270V0Z"/><path transform="matrix(1.0000 0.0000 0.0000 1.0000 444.07 42.30) translate(90.60 -12.00) scale(20.50)" d="M0.362 0V-0.697H0.298C0.276 -0.612 0.222 -0.569 0.098 -0.566V-0.505H0.270V0Z"/><path transform="matrix(0.0000 -0.9870 0.9870 0.0000 58.80 860.00) translate(90.60 -12.00) scale(20.50)" d="M0.362 0V-0.697H0.298C0.276 -0.612 0.222 -0.569 0.098 -0.566V-0.505H0.270V0Z"/></g></svg></body></html>
